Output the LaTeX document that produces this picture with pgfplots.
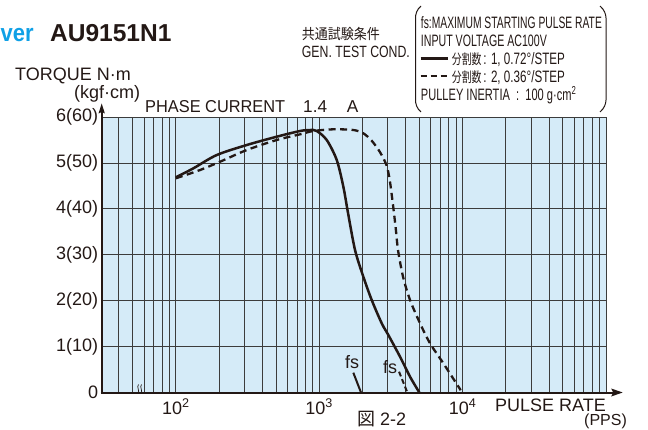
\documentclass[border=0pt]{standalone}
\usepackage{pgfplots}
\pgfplotsset{compat=1.18}
\usepackage{fontspec}
\setmainfont{Liberation Sans}
\newfontfamily\jp{Noto Sans CJK JP}
\definecolor{bgblue}{HTML}{D5EBF8}
\definecolor{ink}{HTML}{231815}
\definecolor{titleblue}{HTML}{0FA0E6}
\definecolor{gridc}{HTML}{3C3C3C}
\newcommand\fsz[1]{\fontsize{#1}{#1}\selectfont}
\begin{document}
\begin{tikzpicture}
\begin{axis}[
 at={(0pt,0pt)}, anchor=south west, scale only axis,
 width=504.3pt, height=275.5pt,
 xmode=log, xmin=30.4, xmax=100000, ymin=0, ymax=6,
 enlargelimits=false, clip=false,
 axis line style={draw=none},
 axis background/.style={fill=bgblue},
 xtick={100,1000,10000},
 xticklabels={10\textsuperscript{2},10\textsuperscript{3},10\textsuperscript{4}},
 minor xtick={40,50,60,70,80,90,200,300,400,500,600,700,800,900,2000,3000,4000,5000,6000,7000,8000,9000,20000,30000,40000,50000,60000,70000,80000,90000,100000},
 ytick={0,1,2,3,4,5,6},
 yticklabels={\raisebox{-4.5pt}{0},1(10),2(20),3(30),4(40),5(50),6(60)},
 grid=both,
 major grid style={line width=0.8pt, gridc},
 minor grid style={line width=0.8pt, gridc},
 major tick length=0pt, minor tick length=0pt,
 tick style={draw=none},
 ticklabel style={font=\fsz{18}, text=ink, inner sep=0pt},
 xticklabel style={anchor=base, yshift=-21.5pt},
 yticklabel style={anchor=east, xshift=-3.4pt},
 /pgf/number format/assume math mode=true,
]
\addplot[ink, line width=2.5pt, smooth, tension=0.5] coordinates {
(100,4.686) (132.4,4.882) (192.9,5.172) (312.2,5.390) (505.2,5.571) (734.6,5.695)
(862.7,5.717) (960.7,5.695) (1128,5.499) (1325,5.063) (1473,4.482) (1588,3.909)
(1777,3.103) (2030,2.522) (2323,2.014) (2728,1.507) (3034,1.252) (3660,0.780)
(4298,0.344) (4991,0)};
\addplot[ink, line width=2.3pt, dash pattern=on 7pt off 4.5pt, smooth, tension=0.5] coordinates {
(100,4.665) (147.5,4.845) (203.3,5.026) (312.2,5.281) (505.2,5.499) (734.6,5.623)
(909.9,5.695) (1254,5.732) (1729,5.717) (2030,5.645) (2323,5.483) (2642,5.244)
(2942,4.954) (3102,4.628) (3270,4.083) (3416,3.576) (3544,3.103) (3841,2.522)
(4298,2.014) (5046,1.507) (5926,1.071) (7336,0.636) (9700,0.05)};
\addplot[ink, line width=2pt] coordinates {(1729,0.431) (1956,0)};
\addplot[ink, line width=2pt, dash pattern=on 5pt off 3pt] coordinates {(3602,0.453) (4116,0)};
\node[font=\fsz{18}, text=ink, inner sep=0pt] at (axis cs:1693,0.664) {fs};
\node[font=\fsz{18}, text=ink, inner sep=0pt] at (axis cs:3118,0.555) {fs};
\end{axis}
% axis lines with arrow heads
\draw[draw=ink, line width=2pt] (-1pt,0pt) -- (512pt,0pt);
\fill[fill=ink] (521pt,0pt) -- (509.5pt,4pt) -- (511.5pt,0pt) -- (509.5pt,-4pt) -- cycle;
\draw[draw=ink, line width=2pt] (0pt,-1pt) -- (0pt,281pt);
\fill[fill=ink] (0pt,289pt) -- (-3.2pt,279pt) -- (0pt,280.5pt) -- (3.2pt,279pt) -- cycle;
% axis break mark
\draw[draw=ink, line width=0.7pt] (36.3pt,-1pt) .. controls (38.5pt,2pt) and (34.5pt,5pt) .. (36.8pt,8pt);
\draw[draw=ink, line width=0.7pt] (39.3pt,-1pt) .. controls (41.5pt,2pt) and (37.5pt,5pt) .. (39.8pt,8pt);
% title
\node[anchor=base west, inner sep=0pt, font=\fsz{24.5}\bfseries, text=titleblue] at (-101.2pt,350.8pt) {\resizebox{33pt}{\height}{ver}};
\node[anchor=base west, inner sep=0pt, font=\fsz{24.5}\bfseries, text=ink] at (-51.7pt,350.8pt) {AU9151N1};
% axis labels
\node[anchor=base west, inner sep=0pt, font=\fsz{18}, text=ink] at (-86.7pt,311.5pt) {TORQUE N·m};
\node[anchor=base west, inner sep=0pt, font=\fsz{18}, text=ink] at (-27.7pt,293.5pt) {(kgf·cm)};
\node[anchor=base west, inner sep=0pt, font=\fsz{17.2}, text=ink] at (43.3pt,280.2pt) {\resizebox{140pt}{\height}{PHASE CURRENT}};
\node[anchor=base west, inner sep=0pt, font=\fsz{17.2}, text=ink] at (201.3pt,280.2pt) {1.4};
\node[anchor=base west, inner sep=0pt, font=\fsz{17.2}, text=ink] at (245pt,280.2pt) {A};
\node[anchor=base west, inner sep=0pt, font=\fsz{18}, text=ink] at (393.3pt,-19.2pt) {PULSE RATE};
\node[anchor=base west, inner sep=0pt, font=\fsz{16}, text=ink] at (482.3pt,-33pt) {(PPS)};
\node[anchor=base west, inner sep=0pt, font=\fsz{18}, text=ink] at (255.3pt,-33.3pt) {{\jp 図}\ 2-2};
% test conditions
\node[anchor=west, inner sep=0pt, font=\jp\fsz{14.5}, text=ink] at (200pt,358.5pt) {\resizebox{78pt}{\height}{共通試験条件}};
\node[anchor=base west, inner sep=0pt, font=\fsz{16.3}, text=ink] at (200pt,335pt) {\resizebox{108pt}{\height}{GEN. TEST COND.}};
\node[anchor=base west, inner sep=0pt, font=\fsz{16.5}, text=ink] at (319pt,364pt) {\resizebox{181pt}{\height}{fs:MAXIMUM STARTING PULSE RATE}};
\node[anchor=base west, inner sep=0pt, font=\fsz{16.5}, text=ink] at (319pt,346pt) {\resizebox{126pt}{\height}{INPUT VOLTAGE AC100V}};
\draw[draw=ink, line width=2.2pt] (319pt,334pt) -- (346.6pt,334pt);
\node[anchor=base west, inner sep=0pt, font=\fsz{16.5}, text=ink] at (350pt,328pt) {\resizebox{113pt}{\height}{{\jp\fsz{14}分割数}\,: 1, 0.72°/STEP}};
\draw[draw=ink, line width=2.2pt, dash pattern=on 6pt off 4pt] (319pt,316.5pt) -- (345.6pt,316.5pt);
\node[anchor=base west, inner sep=0pt, font=\fsz{16.5}, text=ink] at (350pt,310pt) {\resizebox{113pt}{\height}{{\jp\fsz{14}分割数}\,: 2, 0.36°/STEP}};
\node[anchor=base west, inner sep=0pt, font=\fsz{16.5}, text=ink] at (319pt,292pt) {\resizebox{155.3pt}{\height}{PULLEY INERTIA\ \ :\ \ 100 g·cm\textsuperscript{2}}};
% brackets
\draw[draw=ink, line width=1pt] (319.3pt,386.5pt) .. controls (315pt,383pt) and (313.8pt,378pt) .. (313.8pt,374.5pt) -- (313.8pt,292.5pt) .. controls (313.8pt,289pt) and (315pt,284pt) .. (319.3pt,280.5pt);
\draw[draw=ink, line width=1pt] (498.3pt,386.5pt) .. controls (502.6pt,383pt) and (504.3pt,378pt) .. (504.3pt,374.5pt) -- (504.3pt,292.5pt) .. controls (504.3pt,289pt) and (502.6pt,284pt) .. (498.3pt,280.5pt);
\pgfresetboundingbox
\path[use as bounding box] (-101.7pt,-36.5pt) rectangle (546.3pt,392.5pt);
\end{tikzpicture}
\end{document}
